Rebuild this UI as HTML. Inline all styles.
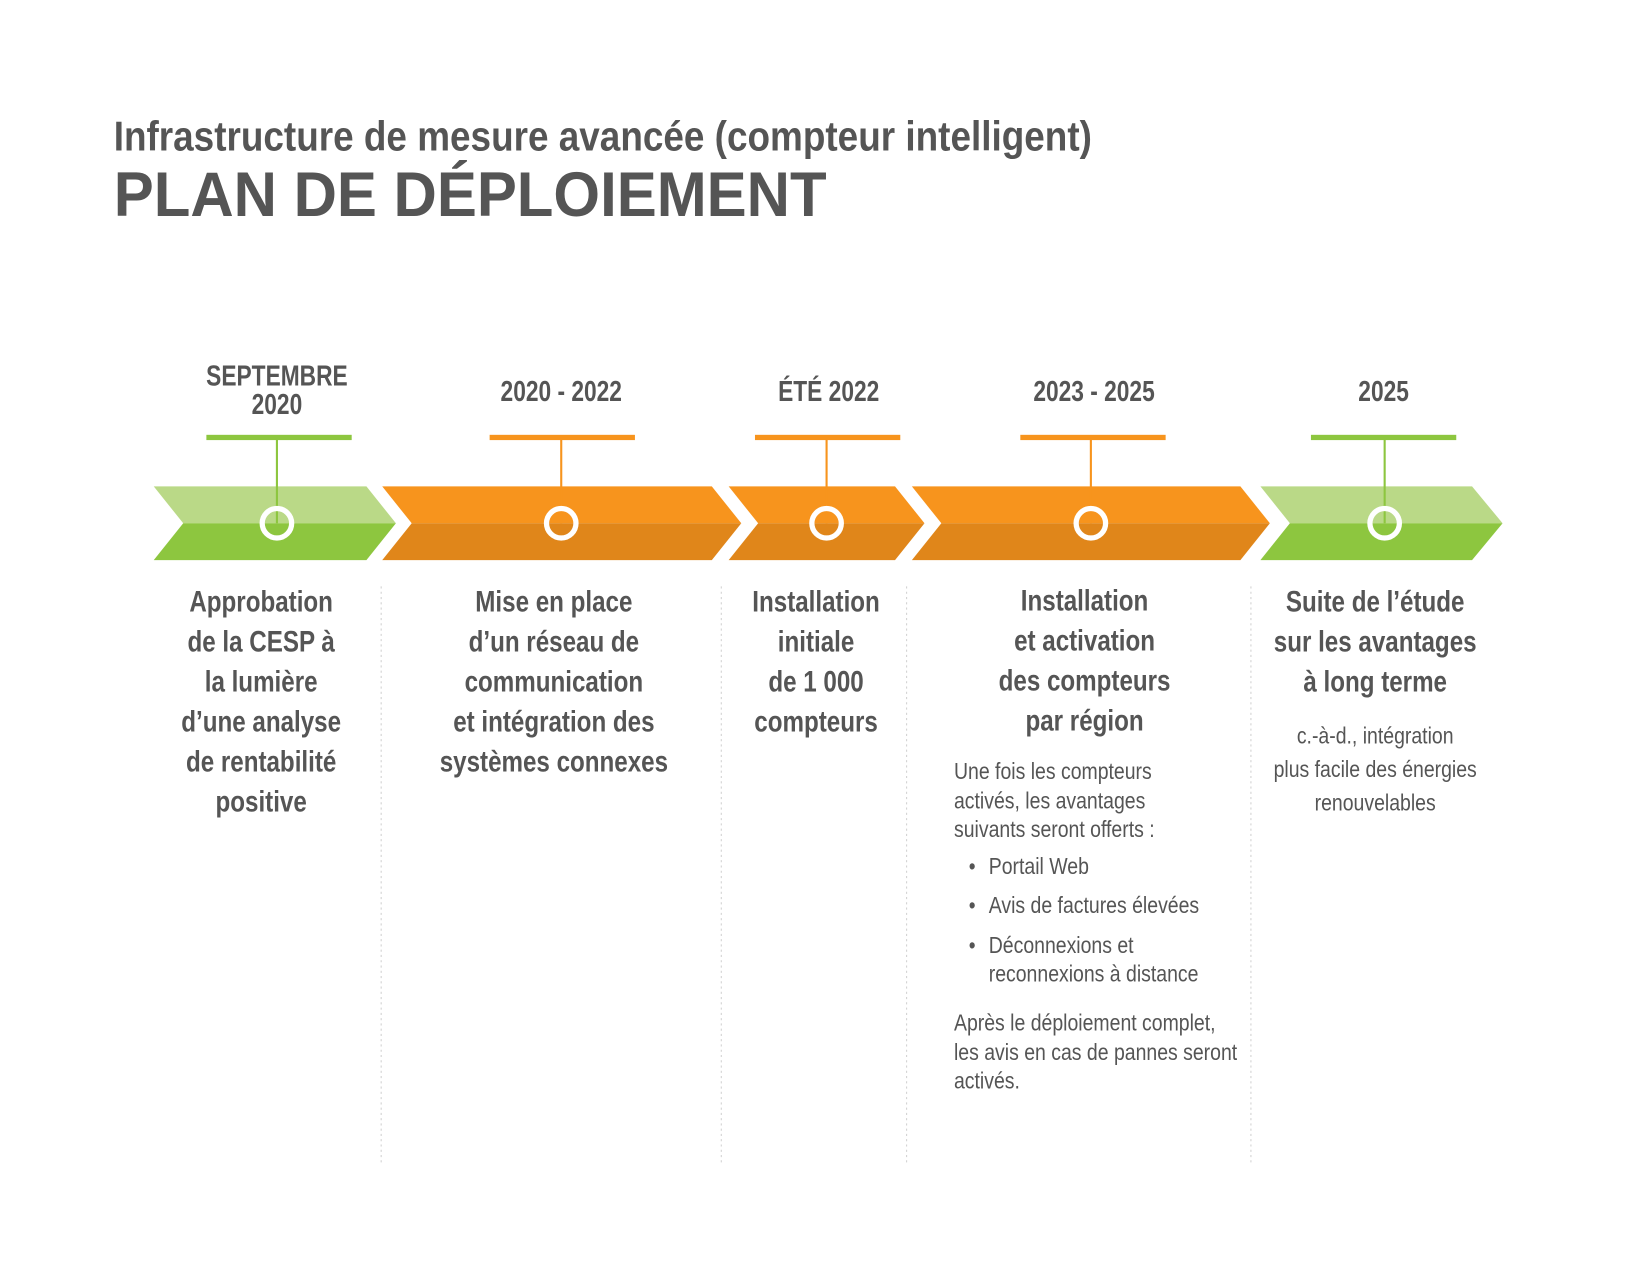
<!DOCTYPE html>
<html><head><meta charset="utf-8"><style>
html,body{margin:0;padding:0;background:#fff;}
svg{display:block;}
text{font-family:"Liberation Sans Narrow","Liberation Sans",sans-serif;fill:#555;}
.b{font-weight:bold;}
</style></head><body>
<svg width="1650" height="1275" viewBox="0 0 1567 1211" preserveAspectRatio="none" xmlns="http://www.w3.org/2000/svg">
<rect width="1567" height="1211" fill="#fff"/>
<text x="108" y="143" class="b" font-size="40" textLength="929" lengthAdjust="spacingAndGlyphs">Infrastructure de mesure avancée (compteur intelligent)</text>
<text x="108" y="205" class="b" font-size="60" style="font-family:'Liberation Sans',sans-serif" textLength="677" lengthAdjust="spacingAndGlyphs">PLAN DE DÉPLOIEMENT</text>

<g class="b" font-size="27" text-anchor="middle">
<text transform="translate(263,366) scale(0.8,1)">SEPTEMBRE</text>
<text transform="translate(263,393) scale(0.8,1)">2020</text>
<text transform="translate(533,381) scale(0.8,1)">2020 - 2022</text>
<text transform="translate(787,381) scale(0.8,1)">ÉTÉ 2022</text>
<text transform="translate(1039,381) scale(0.8,1)">2023 - 2025</text>
<text transform="translate(1314,381) scale(0.8,1)">2025</text>
</g>

<polygon points="146,462 348,462 376,497 174,497" fill="#bad987"/>
<polygon points="174,497 376,497 348,532 146,532" fill="#8dc63f"/>
<polygon points="363,462 676,462 704,497 391,497" fill="#f7941d"/>
<polygon points="391,497 704,497 676,532 363,532" fill="#e0861a"/>
<polygon points="692,462 850,462 878,497 720,497" fill="#f7941d"/>
<polygon points="720,497 878,497 850,532 692,532" fill="#e0861a"/>
<polygon points="866,462 1178,462 1206,497 894,497" fill="#f7941d"/>
<polygon points="894,497 1206,497 1178,532 866,532" fill="#e0861a"/>
<polygon points="1197,462 1398,462 1427,497 1225,497" fill="#bad987"/>
<polygon points="1225,497 1427,497 1398,532 1197,532" fill="#8dc63f"/>

<g stroke-width="2">
<line x1="263" y1="416" x2="263" y2="497" stroke="#8dc63f"/>
<line x1="533" y1="416" x2="533" y2="497" stroke="#f7941d"/>
<line x1="785" y1="416" x2="785" y2="497" stroke="#f7941d"/>
<line x1="1036" y1="416" x2="1036" y2="497" stroke="#f7941d"/>
<line x1="1315" y1="416" x2="1315" y2="497" stroke="#8dc63f"/>
</g>
<rect x="196" y="413" width="138" height="5" fill="#8dc63f"/>
<rect x="465" y="413" width="138" height="5" fill="#f7941d"/>
<rect x="717" y="413" width="138" height="5" fill="#f7941d"/>
<rect x="969" y="413" width="138" height="5" fill="#f7941d"/>
<rect x="1245" y="413" width="138" height="5" fill="#8dc63f"/>

<g fill="none" stroke="#fff" stroke-width="5">
<circle cx="263" cy="497" r="14"/><circle cx="533" cy="497" r="14"/><circle cx="785" cy="497" r="14"/><circle cx="1036" cy="497" r="14"/><circle cx="1315" cy="497" r="14"/>
</g>

<g stroke="#d0d0d0" stroke-width="1" stroke-dasharray="2,3">
<line x1="362" y1="557" x2="362" y2="1105"/>
<line x1="685" y1="557" x2="685" y2="1105"/>
<line x1="861" y1="557" x2="861" y2="1105"/>
<line x1="1188" y1="557" x2="1188" y2="1105"/>
</g>

<g class="b" font-size="28" text-anchor="middle">
<text transform="translate(248,581) scale(0.82,1)">Approbation</text>
<text transform="translate(248,619) scale(0.82,1)">de la CESP à</text>
<text transform="translate(248,657) scale(0.82,1)">la lumière</text>
<text transform="translate(248,695) scale(0.82,1)">d’une analyse</text>
<text transform="translate(248,733) scale(0.82,1)">de rentabilité</text>
<text transform="translate(248,771) scale(0.82,1)">positive</text>

<text transform="translate(526,581) scale(0.82,1)">Mise en place</text>
<text transform="translate(526,619) scale(0.82,1)">d’un réseau de</text>
<text transform="translate(526,657) scale(0.82,1)">communication</text>
<text transform="translate(526,695) scale(0.82,1)">et intégration des</text>
<text transform="translate(526,733) scale(0.82,1)">systèmes connexes</text>

<text transform="translate(775,581) scale(0.82,1)">Installation</text>
<text transform="translate(775,619) scale(0.82,1)">initiale</text>
<text transform="translate(775,657) scale(0.82,1)">de 1 000</text>
<text transform="translate(775,695) scale(0.82,1)">compteurs</text>

<text transform="translate(1030,580) scale(0.82,1)">Installation</text>
<text transform="translate(1030,618) scale(0.82,1)">et activation</text>
<text transform="translate(1030,656) scale(0.82,1)">des compteurs</text>
<text transform="translate(1030,694) scale(0.82,1)">par région</text>

<text transform="translate(1306,581) scale(0.82,1)">Suite de l’étude</text>
<text transform="translate(1306,619) scale(0.82,1)">sur les avantages</text>
<text transform="translate(1306,657) scale(0.82,1)">à long terme</text>
</g>

<g font-size="22">
<text transform="translate(906,740) scale(0.84,1)">Une fois les compteurs</text>
<text transform="translate(906,768) scale(0.84,1)">activés, les avantages</text>
<text transform="translate(906,795) scale(0.84,1)">suivants seront offerts :</text>
<text transform="translate(920,830) scale(0.84,1)">•</text><text transform="translate(939,830) scale(0.84,1)">Portail Web</text>
<text transform="translate(920,867) scale(0.84,1)">•</text><text transform="translate(939,867) scale(0.84,1)">Avis de factures élevées</text>
<text transform="translate(920,905) scale(0.84,1)">•</text><text transform="translate(939,905) scale(0.84,1)">Déconnexions et</text>
<text transform="translate(939,932) scale(0.84,1)">reconnexions à distance</text>
<text transform="translate(906,979) scale(0.84,1)">Après le déploiement complet,</text>
<text transform="translate(906,1007) scale(0.84,1)">les avis en cas de pannes seront</text>
<text transform="translate(906,1034) scale(0.84,1)">activés.</text>
</g>
<g font-size="22" text-anchor="middle">
<text transform="translate(1306,706) scale(0.84,1)">c.-à-d., intégration</text>
<text transform="translate(1306,738) scale(0.84,1)">plus facile des énergies</text>
<text transform="translate(1306,770) scale(0.84,1)">renouvelables</text>
</g>
</svg>
</body></html>
